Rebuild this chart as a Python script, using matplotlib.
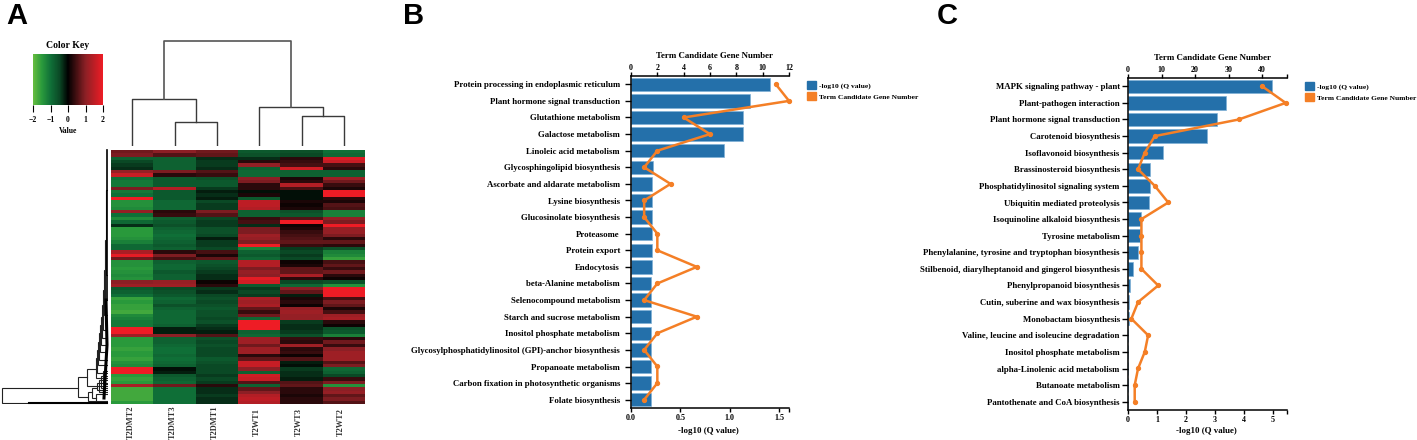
import numpy as np
from matplotlib import pyplot as plt
from matplotlib.colors import LinearSegmentedColormap
from matplotlib.cm import ScalarMappable
from matplotlib.colors import Normalize
from matplotlib.patches import Patch

W, H = 1417, 440
SERIF = 'Liberation Serif'
BLUE = '#2470aa'
ORANGE = '#f47f26'

# panel A
col_names = ['T2DMT2', 'T2DMT3', 'T2DMT1', 'T2WT1', 'T2WT3', 'T2WT2']
heat_rows = [
    [0.8, 1.0, 0.8, -0.7, -0.6, -1.0], [0.9, 0.6, 0.7, -0.6, -0.5, -0.9],
    [-0.8, -0.8, -0.3, -0.3, 0.3, 1.8], [-0.5, -0.8, -0.4, 0.3, 0.4, 1.6],
    [-0.4, -0.8, -0.4, 1.1, 0.5, 0.5], [-0.3, -0.8, -0.3, -0.8, 1.7, 0.3],
    [1.1, 0.9, 0.6, -0.9, -0.8, -0.8], [1.6, 0.3, 0.4, -0.9, -0.8, -0.8],
    [-1.0, -0.7, -0.6, 1.0, 0.2, 1.2], [-1.1, -0.7, -0.7, 0.9, 0.3, 0.8],
    [-1.1, -0.7, -0.7, 0.3, 1.4, 0.4], [0.9, 1.4, -0.4, 0.3, 0.5, 0.2],
    [-1.1, -0.7, -0.2, -0.1, -0.1, 2.0], [-1.0, -0.7, -0.3, 0.2, -0.1, 2.0],
    [2.0, -0.7, -0.2, -0.7, -0.1, 0.3], [-1.4, -0.9, -0.5, 1.5, 0.2, 0.2],
    [-1.4, -0.9, -0.4, 1.5, 0.1, 0.6], [-1.3, -0.9, -0.4, 1.4, 0.2, 0.5],
    [1.1, 0.3, 0.9, -0.8, -0.6, -1.2], [-1.0, 0.4, 0.6, -0.8, -0.7, -1.2],
    [-1.3, -0.8, -0.5, 0.4, 0.6, 1.1],
    [-0.9, -0.7, -0.4, 0.5, 2.0, 0.9], [-0.3, -0.6, -0.4, -0.3, 0.1, 2.0],
    [-1.5, -0.8, -0.6, 0.9, 0.2, 1.1], [-1.5, -0.9, -0.6, 0.9, 0.4, 1.1],
    [-1.5, -1.0, -0.5, 1.2, 0.5, 0.9], [-1.4, -0.9, -0.2, 1.1, 0.6, 0.3],
    [-1.2, -0.8, -0.4, 0.9, 0.7, 0.7], [-0.9, -0.7, -0.4, 2.0, 0.4, 0.3],
    [-0.9, -0.8, -0.5, -1.2, -0.4, -0.6], [1.3, 0.3, 0.5, -0.8, -0.5, -1.2],
    [1.9, 0.9, 0.2, -0.7, -0.4, -1.3], [0.8, 0.5, 0.7, -0.9, -0.5, -1.6],
    [-1.4, -0.8, -0.7, 1.4, 0.1, 0.5], [-1.4, -0.9, -0.6, 1.4, 0.2, 0.7],
    [-1.5, -0.9, -0.5, 0.9, 0.7, 0.4], [-1.4, -0.7, -0.4, 1.1, 0.7, 0.8],
    [-1.3, -0.8, -0.3, 1.0, 1.3, 0.3], [-1.4, -0.8, -0.3, 1.9, 0.3, 0.1],
    [1.0, 1.1, 0.1, 1.7, -0.5, -0.6], [1.2, 1.2, 0.3, -0.7, -0.9, -1.4],
    [-0.7, -0.5, -0.4, -0.4, 1.0, 2.0], [-0.8, -0.6, -0.3, -0.5, 0.7, 2.0],
    [-1.0, -0.7, -0.5, -0.4, -0.2, 2.0], [-1.6, -0.9, -0.6, 1.3, 0.2, 0.5],
    [-1.5, -0.8, -0.5, 1.2, 0.3, 0.9], [-1.6, -0.6, -0.6, 1.3, 0.1, 0.7],
    [-1.6, -0.8, -0.7, 0.7, 1.1, 0.2], [-1.7, -0.9, -0.6, 0.4, 1.2, 0.5],
    [-1.3, -0.9, -0.6, 0.8, 1.1, 1.2], [-1.2, -0.9, -0.5, -0.9, 1.1, 1.3],
    [-1.1, -0.9, -0.6, 2.0, -0.4, 0.3], [-1.1, -0.8, -0.4, 2.0, -0.3, 0.1],
    [2.0, -0.2, -0.3, 2.0, -0.3, -0.6], [2.0, -0.2, -0.2, -0.8, -0.4, -0.7],
    [1.2, 1.0, 0.6, -0.9, -0.6, -1.2], [-1.5, -0.8, -0.6, 1.2, 0.4, 0.3],
    [-1.5, -0.8, -0.5, 1.2, 0.3, 0.8], [-1.5, -0.9, -0.6, 0.8, 1.2, 0.4],
    [-1.6, -1.0, -0.5, 1.2, 0.3, 1.0], [-1.5, -1.0, -0.5, 1.2, 0.4, 1.2],
    [-1.5, -0.9, -0.5, 0.3, 0.1, 1.2], [-1.6, -1.0, -0.7, 0.7, 0.6, 1.2],
    [-1.4, -0.9, -0.6, 1.6, -0.2, 0.6], [-1.3, -0.8, -0.5, 1.6, -0.1, 0.9],
    [2.0, -0.1, -0.5, 1.0, -0.4, -0.9], [2.0, -0.2, -0.5, -0.8, -0.3, -0.8],
    [-1.5, -0.7, -0.4, 1.7, -0.3, -0.5], [-1.6, -0.8, -0.5, 1.6, -0.2, 0.4],
    [-1.5, -0.9, -0.4, 0.6, 0.6, 0.9], [1.3, 0.8, 0.3, -0.8, 0.7, -1.4],
    [-1.7, -1.0, -0.3, 0.7, 0.3, 1.0], [-1.7, -1.0, -0.3, 1.0, 0.3, 1.1],
    [-1.7, -1.0, -0.4, 1.4, 0.2, 0.7], [-1.7, -1.0, -0.3, 1.5, 0.3, 0.9],
    [-1.5, -1.0, -0.3, 1.4, 0.3, 0.6],
]

# column tree: left leaf, right leaf, height (leaf index or merged x)
col_tree_left = [1, 4, 0, 3, 0.0]
col_tree_right = [2, 5, 1.5, 4.5, 0.0]
col_tree_height = [24, 30, 47, 39, 105]

# row tree in pixels
row_x = [2, 78, 87, 96, 97, 98, 99, 100, 101, 102, 103, 104, 105, 106, 88, 92, 96, 97, 99, 101, 103]
row_top = [388, 377, 369, 358, 350, 342, 333, 325, 317, 305, 290, 270, 240, 190, 392, 388, 394, 383, 380, 376, 371]
row_bot = [403, 397, 386, 378, 373, 365, 360, 352, 345, 338, 330, 315, 300, 275, 401, 398, 402, 390, 392, 388, 384]
row_top_end = [78, 87, 96, 97, 98, 99, 100, 101, 102, 103, 104, 105, 106, 107, 92, 97, 107, 107, 107, 107, 107]
row_bot_end = [107, 88, 107, 107, 107, 107, 107, 107, 107, 107, 107, 107, 107, 107, 107, 96, 107, 107, 107, 107, 107]

# panel B
b_terms = ['Protein processing in endoplasmic reticulum', 'Plant hormone signal transduction',
           'Glutathione metabolism', 'Galactose metabolism', 'Linoleic acid metabolism',
           'Glycosphingolipid biosynthesis', 'Ascorbate and aldarate metabolism', 'Lysine biosynthesis',
           'Glucosinolate biosynthesis', 'Proteasome', 'Protein export', 'Endocytosis',
           'beta-Alanine metabolism', 'Selenocompound metabolism', 'Starch and sucrose metabolism',
           'Inositol phosphate metabolism', 'Glycosylphosphatidylinositol (GPI)-anchor biosynthesis',
           'Propanoate metabolism', 'Carbon fixation in photosynthetic organisms', 'Folate biosynthesis']
b_q = [1.41, 1.21, 1.135, 1.13, 0.945, 0.226, 0.216, 0.216, 0.216, 0.216,
       0.216, 0.216, 0.2, 0.2, 0.2, 0.2, 0.2, 0.2, 0.2, 0.2]
b_genes = [11, 12, 4, 6, 2, 1, 3, 1, 1, 2, 2, 5, 2, 1, 5, 2, 1, 2, 2, 1]

# panel C
c_terms = ['MAPK signaling pathway - plant', 'Plant-pathogen interaction', 'Plant hormone signal transduction',
           'Carotenoid biosynthesis', 'Isoflavonoid biosynthesis', 'Brassinosteroid biosynthesis',
           'Phosphatidylinositol signaling system', 'Ubiquitin mediated proteolysis',
           'Isoquinoline alkaloid biosynthesis', 'Tyrosine metabolism',
           'Phenylalanine, tyrosine and tryptophan biosynthesis',
           'Stilbenoid, diarylheptanoid and gingerol biosynthesis', 'Phenylpropanoid biosynthesis',
           'Cutin, suberine and wax biosynthesis', 'Monobactam biosynthesis',
           'Valine, leucine and isoleucine degradation', 'Inositol phosphate metabolism',
           'alpha-Linolenic acid metabolism', 'Butanoate metabolism', 'Pantothenate and CoA biosynthesis']
c_q = [4.99, 3.38, 3.08, 2.74, 1.2, 0.76, 0.76, 0.74, 0.45, 0.41,
       0.35, 0.17, 0.07, 0.02, 0.02, 0.01, 0.01, 0.01, 0.01, 0.01]
c_genes = [40, 47, 33, 8, 5, 3, 8, 12, 4, 4, 4, 4, 9, 3, 1, 6, 5, 3, 2, 2]


def px_axes(x0, y0, x1, y1):
    # axes from pixel box, y measured from the top
    return fig.add_axes([x0 / W, 1 - y1 / H, (x1 - x0) / W, (y1 - y0) / H])


def fig_text(x, y, s, **kw):
    kw.setdefault('family', SERIF)
    kw.setdefault('weight', 'bold')
    kw.setdefault('ha', 'center')
    kw.setdefault('va', 'center')
    fig.text(x / W, 1 - y / H, s, **kw)


fig = plt.figure(figsize=(W / 100, H / 100), dpi=100)

cmap = LinearSegmentedColormap.from_list('key', [(0, '#66bd3f'), (0.125, '#2a9a3c'), (0.25, '#107038'),
                                                 (0.375, '#0b4a26'), (0.5, '#000000'),
                                                 (0.75, '#8b2025'), (1, '#ee1c25')])

# heatmap
ax = px_axes(111, 150, 365, 404)
ax.imshow(np.array(heat_rows), cmap=cmap, vmin=-2, vmax=2, aspect='auto', interpolation='nearest')
ax.axis('off')
for i, name in enumerate(col_names):
    fig_text(131 + i * 42, 422, name, rotation=90, fontsize=6, color='#333333')

# colour key
cax = px_axes(33, 54, 103, 105)
cb = fig.colorbar(ScalarMappable(Normalize(-2, 2), cmap), cax=cax, orientation='horizontal')
cb.outline.set_visible(False)
cb.set_ticks([-2, -1, 0, 1, 2])
cb.ax.tick_params(length=5, width=0.8, labelsize=5.5, pad=3)
for t in cb.ax.get_xticklabels():
    t.set_family(SERIF)
    t.set_weight('bold')
fig_text(68, 45, 'Color Key', fontsize=7)
fig_text(68, 131, 'Value', fontsize=5.5)

# column dendrogram
ax = px_axes(111, 41, 365, 146)
ax.set_xlim(-0.5, 5.5)
ax.set_ylim(0, 105)
ax.axis('off')
tree_c = '#3a3a3a'
nodes = {}
for l, r, h in zip(col_tree_left[:4], col_tree_right[:4], col_tree_height[:4]):
    hl = nodes.get(l, 0)
    hr = nodes.get(r, 0)
    ax.plot([l, l, r, r], [hl, h, h, hr], color=tree_c, lw=1)
    nodes[(l + r) / 2] = h
ax.plot([0.75, 0.75, 3.75, 3.75], [col_tree_height[2], col_tree_height[4], col_tree_height[4], col_tree_height[3]],
        color='#555555', lw=1.2, clip_on=False)

# row dendrogram
ax = px_axes(0, 150, 107.5, 404)
ax.set_xlim(0, 107.5)
ax.set_ylim(404, 150)
ax.axis('off')
for x, t, b, te, be in zip(row_x, row_top, row_bot, row_top_end, row_bot_end):
    ax.plot([te, x, x, be], [t, t, b, b], color='#222222', lw=0.8, solid_joinstyle='miter')
ax.plot([29, 107], [403, 403], color='black', lw=1.5, clip_on=False)
ax.plot([107, 107], [150, 300], color='black', lw=1.2, clip_on=False)
ax.plot([106, 107, 104], [300, 345, 398], color='black', lw=2.2, clip_on=False)


def with_end(ticks, end):
    # d3 style axis: a bare tick at the end of the domain
    if end in ticks:
        return ticks, [str(v) for v in ticks]
    return ticks + [end], [str(v) for v in ticks] + ['']


def go_panel(terms, q, genes, box, qmax, gmax, qticks, gticks, ypad):
    ax = px_axes(*box)
    y = np.arange(len(terms))
    ax.barh(y, q, height=0.8, color=BLUE, edgecolor='#7fb0d6', linewidth=0.5)
    ax.set_ylim(len(terms) - 0.5, -0.5)
    ax.set_xlim(0, qmax)
    ax.set_yticks(y, terms, family=SERIF, weight='bold', fontsize=6.3)
    pos, labs = with_end(qticks, qmax)
    ax.set_xticks(pos, labs, family=SERIF, weight='bold', fontsize=5.8)
    ax.tick_params(axis='y', length=4, width=1, pad=ypad)
    ax.tick_params(axis='x', length=3, width=1, pad=1)
    for s in ['right', 'top']:
        ax.spines[s].set_visible(False)
    for s in ['left', 'bottom']:
        ax.spines[s].set_linewidth(1.1)

    ax2 = ax.twiny()
    ax2.set_xlim(0, gmax)
    ax2.plot(genes, y, color=ORANGE, lw=1.8, marker='o', ms=2.8, clip_on=False)
    pos, labs = with_end(gticks, gmax)
    ax2.set_xticks(pos, labs, family=SERIF, weight='bold', fontsize=5.8)
    ax2.tick_params(axis='x', length=3, width=1, pad=0)
    for s in ['left', 'right', 'bottom']:
        ax2.spines[s].set_visible(False)
    ax2.spines['top'].set_linewidth(1.1)
    return ax


go_panel(b_terms, b_q, b_genes, (631, 76, 789, 408), 1.6, 12, [0.0, 0.5, 1.0, 1.5], [0, 2, 4, 6, 8, 10, 12], 4)
fig_text(714, 56, 'Term Candidate Gene Number', fontsize=6.4)
fig_text(708, 431, '-log10 (Q value)', fontsize=6.4)

go_panel(c_terms, c_q, c_genes, (1128, 78, 1287, 410), 5.5, 47.4, [0, 1, 2, 3, 4, 5], [0, 10, 20, 30, 40], 2)
fig_text(1212, 58, 'Term Candidate Gene Number', fontsize=6.4)
fig_text(1206, 431, '-log10 (Q value)', fontsize=6.4)

# legends
handles = [Patch(color=BLUE, label='-log10 (Q value)'), Patch(color=ORANGE, label='Term Candidate Gene Number')]
for x, y in [(807, 81), (1305, 82)]:
    fig.legend(handles=handles, loc='upper left', bbox_to_anchor=(x / W, 1 - y / H), frameon=False,
               prop={'family': SERIF, 'weight': 'bold', 'size': 5.4}, handlelength=1.2, handleheight=1.2,
               handletextpad=0.4, labelspacing=0.5, borderpad=0, borderaxespad=0)

# panel letters
for x, s in [(6, 'A'), (403, 'B'), (937, 'C')]:
    fig_text(x, 24, s, family='Liberation Sans', fontsize=21, ha='left', va='baseline')

plt.savefig('out.png', dpi=100)
